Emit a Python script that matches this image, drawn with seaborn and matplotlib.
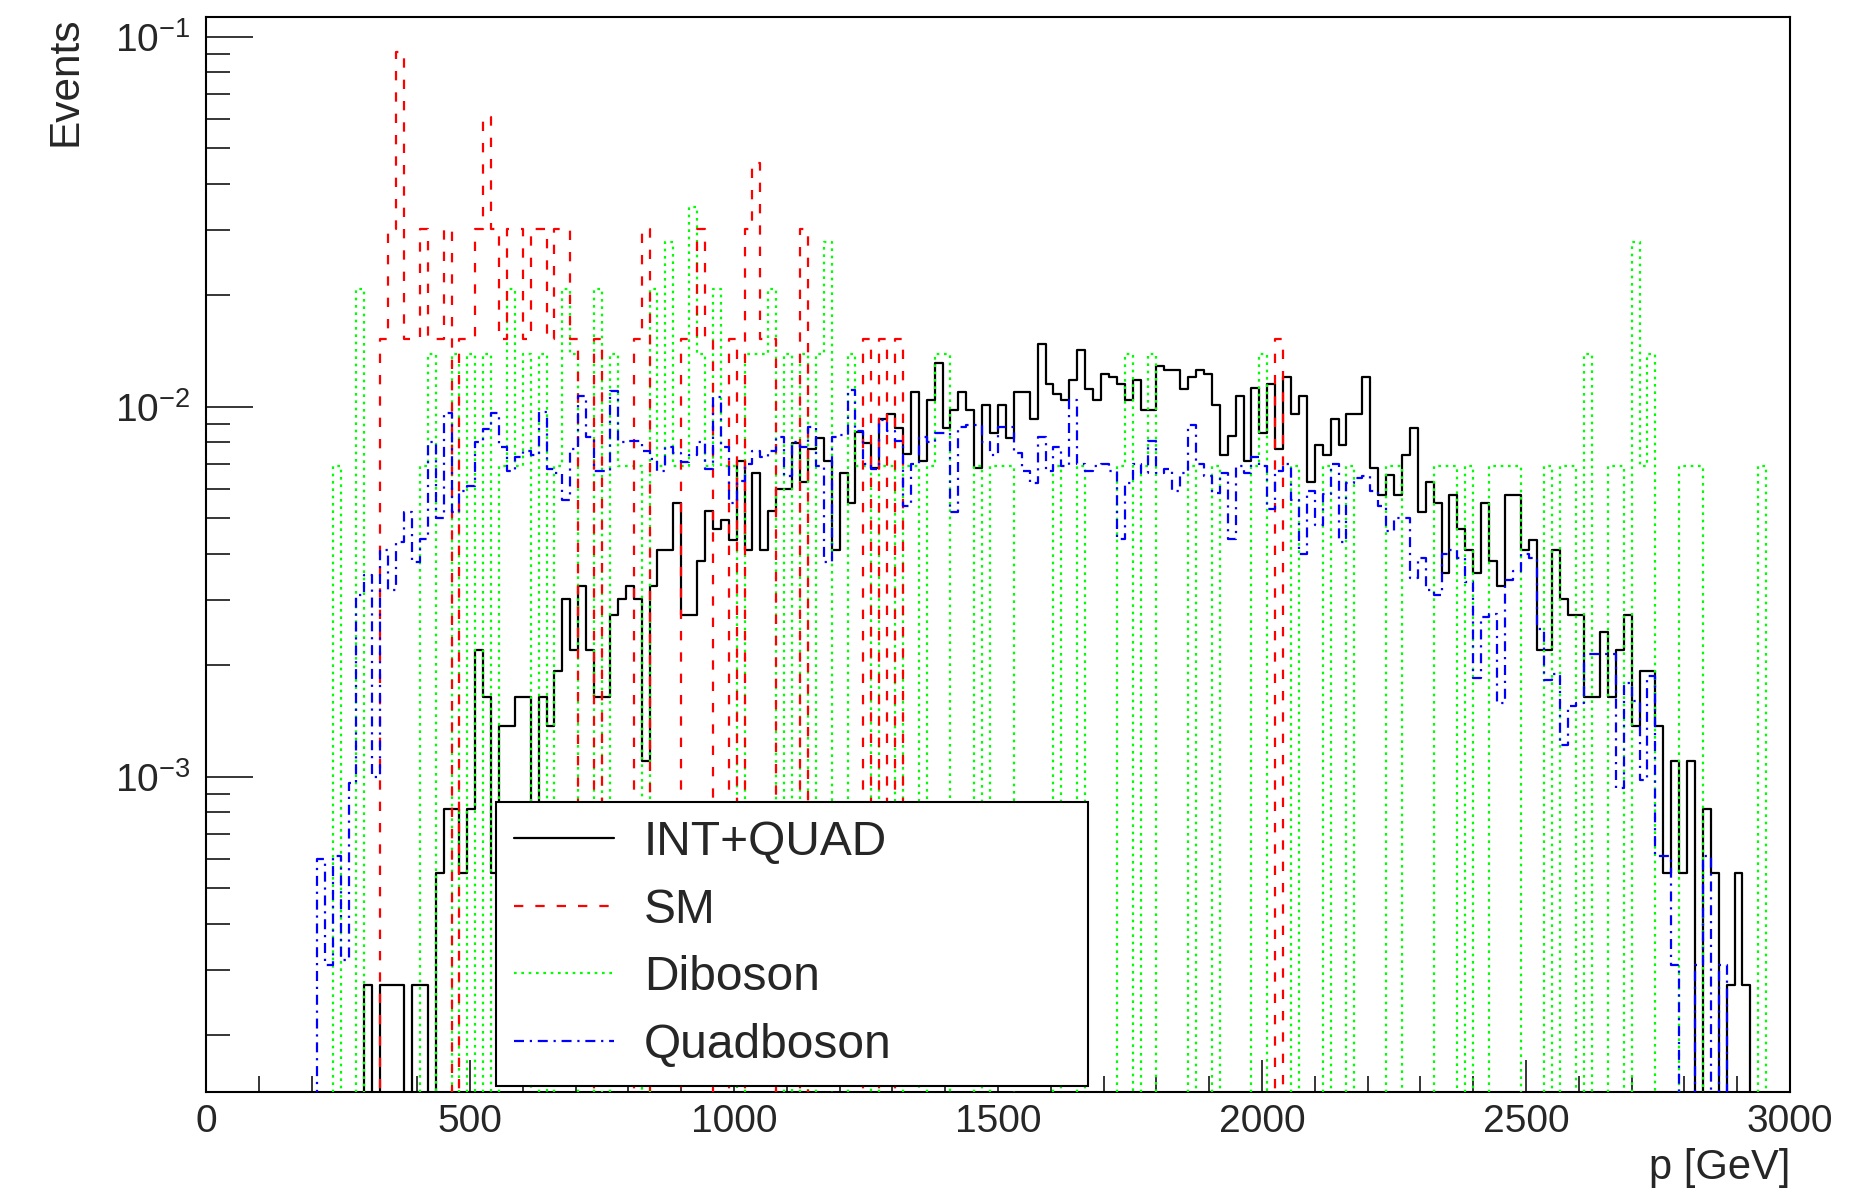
import numpy as np
import pandas as pd
import seaborn as sns
import matplotlib.pyplot as plt
from matplotlib.ticker import LogLocator, MultipleLocator, NullFormatter, LogFormatterMathtext

# histogram layout: 200 bins of 15 GeV between 0 and 3000 GeV
p_min, p_max, n_bins = 0, 3000, 200

# bin contents, bin 0 first
int_quad = [
    0, 0, 0, 0, 0, 0, 0, 0, 0, 0,
    0, 0, 0, 0, 0, 0, 0, 0, 0, 0,
    2.74e-4, 0, 2.74e-4, 2.74e-4, 2.74e-4, 0, 2.74e-4, 2.74e-4, 0, 5.48e-4,
    8.2e-4, 8.2e-4, 5.48e-4, 8.2e-4, 2.2e-3, 1.64e-3, 5.48e-4, 1.37e-3, 1.37e-3, 1.64e-3,
    1.64e-3, 5.48e-4, 1.64e-3, 1.37e-3, 1.93e-3, 3.02e-3, 2.2e-3, 3.28e-3, 2.2e-3, 1.64e-3,
    1.64e-3, 2.73e-3, 3.02e-3, 3.28e-3, 3.02e-3, 1.1e-3, 3.28e-3, 4.11e-3, 4.11e-3, 5.48e-3,
    2.73e-3, 2.73e-3, 3.83e-3, 5.22e-3, 4.66e-3, 4.93e-3, 4.37e-3, 7.11e-3, 4.11e-3, 6.6e-3,
    4.11e-3, 5.22e-3, 6.0e-3, 6.0e-3, 7.96e-3, 6.27e-3, 7.69e-3, 8.24e-3, 7.11e-3, 4.11e-3,
    6.6e-3, 5.48e-3, 8.53e-3, 7.96e-3, 6.84e-3, 9.27e-3, 9.55e-3, 8.76e-3, 7.43e-3, 1.093e-2,
    7.11e-3, 1.042e-2, 1.312e-2, 8.76e-3, 9.81e-3, 1.093e-2, 9.81e-3, 6.84e-3, 1.011e-2, 8.49e-3,
    1.011e-2, 8.24e-3, 1.093e-2, 1.093e-2, 9.27e-3, 1.476e-2, 1.152e-2, 1.079e-2, 1.042e-2, 1.177e-2,
    1.419e-2, 1.117e-2, 1.042e-2, 1.229e-2, 1.203e-2, 1.152e-2, 1.042e-2, 1.177e-2, 9.81e-3, 9.81e-3,
    1.284e-2, 1.257e-2, 1.257e-2, 1.117e-2, 1.203e-2, 1.257e-2, 1.229e-2, 1.011e-2, 7.40e-3, 8.31e-3,
    1.070e-2, 7.11e-3, 1.122e-2, 8.49e-3, 1.152e-2, 7.69e-3, 1.203e-2, 9.55e-3, 1.070e-2, 6.27e-3,
    7.89e-3, 7.40e-3, 9.27e-3, 7.89e-3, 9.55e-3, 9.55e-3, 1.203e-2, 6.84e-3, 5.77e-3, 6.54e-3,
    5.77e-3, 7.40e-3, 8.73e-3, 5.20e-3, 6.27e-3, 5.48e-3, 3.56e-3, 5.77e-3, 4.66e-3, 4.11e-3,
    3.56e-3, 5.48e-3, 3.83e-3, 3.28e-3, 5.77e-3, 5.77e-3, 4.11e-3, 4.37e-3, 2.20e-3, 2.20e-3,
    4.11e-3, 3.02e-3, 2.73e-3, 2.73e-3, 1.64e-3, 1.64e-3, 2.46e-3, 1.64e-3, 2.20e-3, 2.73e-3,
    1.37e-3, 1.93e-3, 1.93e-3, 1.37e-3, 5.48e-4, 1.10e-3, 5.48e-4, 1.10e-3, 0, 8.2e-4,
    5.48e-4, 0, 2.74e-4, 5.48e-4, 2.74e-4, 0, 0, 0, 0, 0,
]

sm = [
    0, 0, 0, 0, 0, 0, 0, 0, 0, 0,
    0, 0, 0, 0, 0, 0, 0, 0, 0, 0,
    0, 0, 0.0152, 0.0303, 0.0909, 0.0152, 0.0152, 0.0303, 0.0152, 0.0152,
    0.0303, 0, 0.0152, 0.0152, 0.0303, 0.0606, 0.0303, 0.0152, 0.0303, 0.0303,
    0.0152, 0.0303, 0.0303, 0.0152, 0.0303, 0.0303, 0.0152, 0, 0, 0.0152,
    0, 0, 0, 0, 0.0152, 0.0303, 0, 0, 0, 0,
    0.0152, 0.0152, 0.0303, 0.0152, 0, 0, 0.0152, 0, 0.0303, 0.0455,
    0.0152, 0.0152, 0, 0, 0, 0.0303, 0, 0, 0, 0,
    0, 0, 0, 0.0152, 0, 0.0152, 0, 0.0152, 0, 0,
    0, 0, 0, 0, 0, 0, 0, 0, 0, 0,
    0, 0, 0, 0, 0, 0, 0, 0, 0, 0,
    0, 0, 0, 0, 0, 0, 0, 0, 0, 0,
    0, 0, 0, 0, 0, 0, 0, 0, 0, 0,
    0, 0, 0, 0, 0, 0.0152, 0, 0, 0, 0,
    0, 0, 0, 0, 0, 0, 0, 0, 0, 0,
    0, 0, 0, 0, 0, 0, 0, 0, 0, 0,
    0, 0, 0, 0, 0, 0, 0, 0, 0, 0,
    0, 0, 0, 0, 0, 0, 0, 0, 0, 0,
    0, 0, 0, 0, 0, 0, 0, 0, 0, 0,
    0, 0, 0, 0, 0, 0, 0, 0, 0, 0,
]

diboson = [
    0, 0, 0, 0, 0, 0, 0, 0, 0, 0,
    0, 0, 0, 0, 0, 0, 0.0069, 0, 0, 0.0208,
    0, 0, 0, 0, 0, 0, 0, 0.0069, 0.0139, 0,
    0, 0.0139, 0, 0.0139, 0, 0.0139, 0, 0.0069, 0.0208, 0.0069,
    0.0139, 0, 0.0139, 0, 0.0069, 0.0208, 0.0139, 0, 0, 0.0208,
    0, 0.0139, 0.0069, 0.0069, 0.0069, 0, 0.0208, 0.0069, 0.0278, 0.0069,
    0.0069, 0.0347, 0.0139, 0.0069, 0.0208, 0.0069, 0.0069, 0, 0.0139, 0.0139,
    0.0139, 0.0208, 0, 0.0139, 0, 0.0139, 0, 0.0139, 0.0278, 0,
    0, 0.0139, 0.0069, 0.0069, 0, 0.0069, 0.0069, 0, 0.0069, 0.0069,
    0, 0.0069, 0.0139, 0.0139, 0, 0, 0, 0.0069, 0, 0.0069,
    0.0069, 0.0069, 0, 0, 0, 0, 0, 0.0069, 0, 0,
    0.0069, 0, 0, 0, 0, 0.0069, 0.0139, 0, 0.0069, 0.0139,
    0, 0, 0, 0, 0.0069, 0, 0, 0.0069, 0, 0,
    0, 0, 0.0069, 0.0139, 0, 0, 0, 0.0069, 0, 0,
    0, 0.0069, 0, 0, 0.0069, 0, 0, 0, 0, 0.0069,
    0.0069, 0, 0, 0, 0, 0.0069, 0.0069, 0.0069, 0, 0.0069,
    0, 0, 0.0069, 0.0069, 0.0069, 0.0069, 0, 0, 0, 0.0069,
    0, 0.0069, 0.0069, 0, 0.0139, 0, 0, 0.0069, 0.0069, 0,
    0.0278, 0.0069, 0.0139, 0, 0, 0, 0.0069, 0.0069, 0.0069, 0,
    0, 0, 0, 0, 0, 0, 0.0069, 0, 0, 0,
]

quadboson = [
    0, 0, 0, 0, 0, 0, 0, 0, 0, 0,
    0, 0, 0, 0, 6.0e-4, 3.1e-4, 6.1e-4, 3.2e-4, 9.6e-4, 3.1e-3,
    3.5e-3, 1.0e-3, 4.1e-3, 3.2e-3, 4.3e-3, 5.2e-3, 3.8e-3, 4.4e-3, 8.0e-3, 5.0e-3,
    9.6e-3, 5.2e-3, 5.9e-3, 6.1e-3, 8.0e-3, 8.7e-3, 9.6e-3, 7.8e-3, 6.7e-3, 7.3e-3,
    7.6e-3, 7.4e-3, 9.7e-3, 6.8e-3, 6.6e-3, 5.6e-3, 7.7e-3, 1.07e-2, 8.3e-3, 6.7e-3,
    6.7e-3, 1.1e-2, 8.0e-3, 8.1e-3, 8.1e-3, 7.6e-3, 7.2e-3, 6.7e-3, 7.8e-3, 7.5e-3,
    7.1e-3, 7.4e-3, 8.0e-3, 6.8e-3, 1.06e-2, 7.8e-3, 5.5e-3, 6.3e-3, 7.0e-3, 7.6e-3,
    7.3e-3, 7.6e-3, 8.3e-3, 6.5e-3, 8.0e-3, 7.8e-3, 8.8e-3, 6.9e-3, 3.8e-3, 8.3e-3,
    8.4e-3, 1.11e-2, 8.6e-3, 7.0e-3, 6.8e-3, 9.2e-3, 8.6e-3, 8.1e-3, 5.4e-3, 7.0e-3,
    8.3e-3, 8.0e-3, 8.5e-3, 8.5e-3, 5.2e-3, 8.8e-3, 8.9e-3, 8.9e-3, 8.0e-3, 7.4e-3,
    8.8e-3, 8.8e-3, 7.5e-3, 6.7e-3, 6.2e-3, 8.3e-3, 6.7e-3, 7.8e-3, 6.9e-3, 1.04e-2,
    7.0e-3, 6.7e-3, 6.9e-3, 7.0e-3, 6.7e-3, 4.4e-3, 6.2e-3, 7.0e-3, 6.6e-3, 8.1e-3,
    6.6e-3, 6.8e-3, 5.9e-3, 6.6e-3, 8.9e-3, 7.0e-3, 6.5e-3, 5.85e-3, 6.6e-3, 4.4e-3,
    6.9e-3, 6.6e-3, 7.3e-3, 6.9e-3, 5.3e-3, 6.7e-3, 7.0e-3, 5.6e-3, 4.0e-3, 5.9e-3,
    4.8e-3, 5.8e-3, 7.0e-3, 4.3e-3, 6.2e-3, 6.4e-3, 6.5e-3, 5.9e-3, 5.4e-3, 4.6e-3,
    5.0e-3, 5.0e-3, 3.45e-3, 3.9e-3, 3.2e-3, 3.1e-3, 4.0e-3, 4.1e-3, 3.9e-3, 3.36e-3,
    1.85e-3, 2.7e-3, 2.75e-3, 1.58e-3, 3.4e-3, 3.6e-3, 4.0e-3, 3.9e-3, 2.5e-3, 1.83e-3,
    1.9e-3, 1.22e-3, 1.55e-3, 1.58e-3, 2.15e-3, 2.15e-3, 2.15e-3, 2.15e-3, 9.3e-4, 1.79e-3,
    1.6e-3, 9.8e-4, 1.87e-3, 6.1e-4, 6.1e-4, 3.1e-4, 0, 0, 3.1e-4, 6.1e-4,
    0, 3.1e-4, 0, 0, 0, 0, 0, 0, 0, 0,
]

labels = ["INT+QUAD", "SM", "Diboson", "Quadboson"]
colors = ["#000000", "#ff0000", "#00ff00", "#0000ff"]
styles = ["-", (0, (4.2, 5.4)), (0, (1.2, 2.1)), (0, (4.5, 2.6, 1.0, 2.6))]
orders = [2, 4, 3, 5]

width = (p_max - p_min) / n_bins
centers = p_min + width * (np.arange(n_bins) + 0.5)
frames = []
for name, vals in zip(labels, [int_quad, sm, diboson, quadboson]):
    frames.append(pd.DataFrame({"p": centers, "w": vals, "sample": name}))
df = pd.concat(frames, ignore_index=True)

sns.set_style("ticks")
plt.rcParams["font.family"] = ["Liberation Sans", "DejaVu Sans"]
plt.rcParams["mathtext.fontset"] = "custom"
plt.rcParams["mathtext.rm"] = "Liberation Sans"
plt.rcParams["mathtext.it"] = "Liberation Sans:italic"
plt.rcParams["mathtext.default"] = "regular"

fig = plt.figure(figsize=(18.5, 11.94), dpi=100)
ax = fig.add_axes([206 / 1850, 1 - 1092 / 1194, 1584 / 1850, 1075 / 1194])

for name, col, ls, zo in zip(labels, colors, styles, orders):
    sns.histplot(data=df[df["sample"] == name], x="p", weights="w",
                 bins=n_bins, binrange=(p_min, p_max), element="step",
                 fill=False, color=col, linestyle=ls, linewidth=1.6,
                 zorder=zo, label=name, ax=ax)

ax.set_yscale("log")
ax.set_xlim(p_min, p_max)
ax.set_ylim(1.405e-4, 0.113)

ax.xaxis.set_major_locator(MultipleLocator(500))
ax.xaxis.set_minor_locator(MultipleLocator(100))
ax.yaxis.set_major_locator(LogLocator(base=10))
ax.yaxis.set_minor_locator(LogLocator(base=10, subs=np.arange(2, 10)))
ax.yaxis.set_major_formatter(LogFormatterMathtext())
ax.yaxis.set_minor_formatter(NullFormatter())

ax.tick_params(which="both", direction="in", top=False, right=False,
               width=1.1, color="black", labelsize=28)
ax.tick_params(axis="y", which="major", length=34, pad=11)
ax.tick_params(axis="y", which="minor", length=17)
ax.tick_params(axis="x", which="major", length=23, pad=9)
ax.tick_params(axis="x", which="minor", length=11.5)
for sp in ax.spines.values():
    sp.set_linewidth(1.5)
    sp.set_color("black")

ax.set_xlabel("p [GeV]", fontsize=30, loc="right")
ax.xaxis.set_label_coords(1.0, -0.052)
ax.set_ylabel("Events", fontsize=30.5, loc="top")
ax.yaxis.set_label_coords(-0.076, 1.0)

leg = ax.legend(loc="upper left", bbox_to_anchor=(0.1828, 0.0116, 0.3739, 0.2582),
                mode="expand", borderaxespad=0, fontsize=34.5, frameon=True,
                fancybox=False, framealpha=1, edgecolor="black", borderpad=0.38,
                labelspacing=0.47, handlelength=2.1, handletextpad=0.62)
leg.get_frame().set_linewidth(1.5)
leg.set_zorder(10)

fig.savefig("out.png", dpi=100, facecolor="white")
